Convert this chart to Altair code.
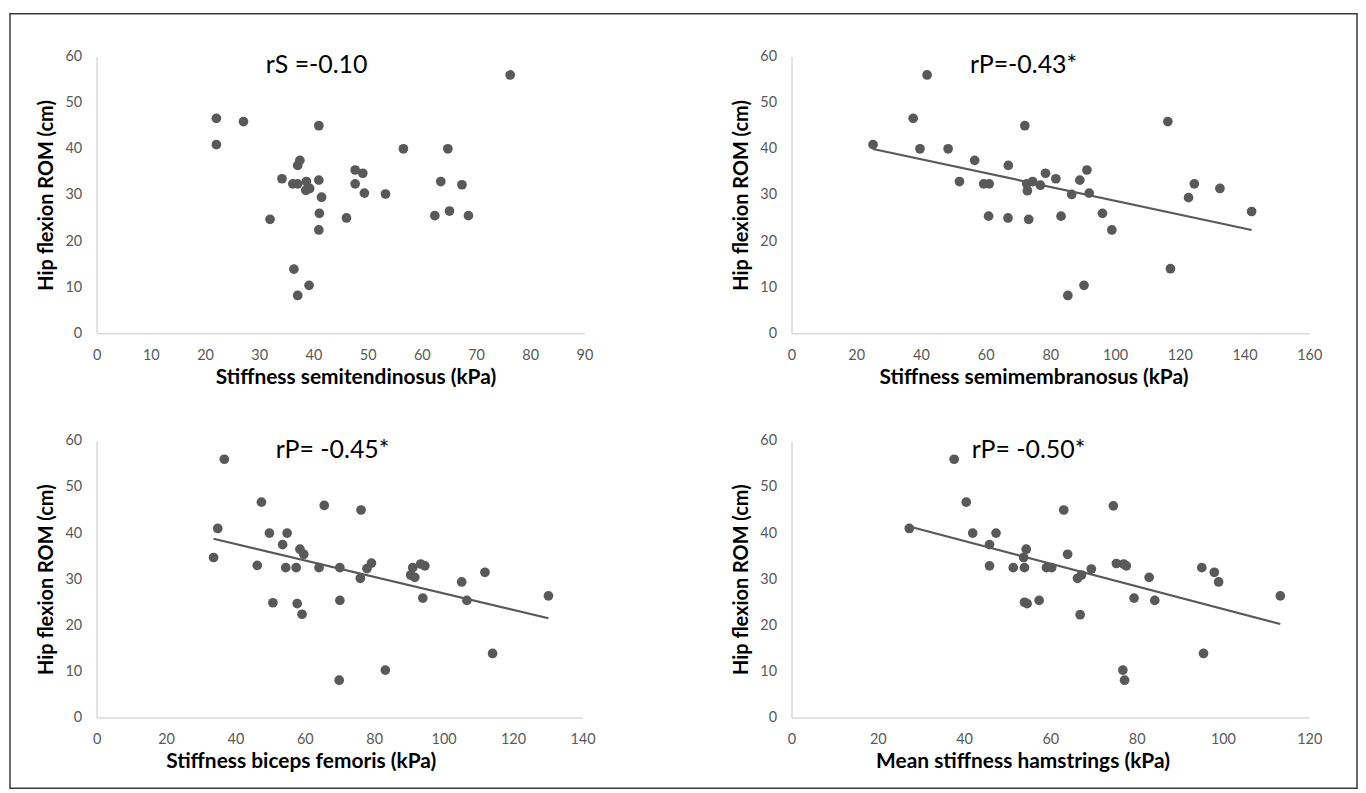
import altair as alt
import pandas as pd

FONT = "Lato"
Y_TITLE = "Hip flexion ROM (cm)"

# Panel 1: semitendinosus
st_x = [76.3, 22.1, 27.1, 41.0, 22.1, 56.6, 64.8, 37.5, 37.1, 47.7,
        49.1, 34.2, 38.7, 41.0, 36.2, 37.1, 63.5, 47.7, 67.4, 38.6,
        39.3, 49.4, 53.3, 41.5, 41.1, 65.1, 62.4, 68.6, 32.0, 46.1,
        41.0, 36.4, 39.2, 37.1]
st_y = [56.0, 46.6, 45.9, 45.0, 40.9, 40.0, 40.0, 37.5, 36.4, 35.4,
        34.7, 33.5, 32.9, 33.2, 32.4, 32.4, 32.9, 32.4, 32.2, 31.0,
        31.4, 30.4, 30.2, 29.5, 26.0, 26.5, 25.5, 25.5, 24.7, 25.0,
        22.4, 13.9, 10.4, 8.2]

# Panel 2: semimembranosus
sm_x = [41.9, 37.6, 72.1, 116.3, 25.2, 39.7, 48.4, 56.6, 67.0, 91.3,
        78.5, 51.9, 81.7, 89.1, 59.4, 61.1, 72.7, 74.5, 76.9, 72.9,
        124.5, 132.4, 86.6, 92.0, 122.7, 60.9, 66.9, 73.3, 83.3, 96.1,
        142.2, 99.0, 117.1, 90.4, 85.4]
sm_y = [56.0, 46.6, 45.0, 45.9, 40.9, 40.0, 40.0, 37.5, 36.4, 35.4,
        34.7, 32.9, 33.5, 33.2, 32.4, 32.4, 32.4, 32.9, 32.1, 30.9,
        32.4, 31.4, 30.1, 30.4, 29.4, 25.4, 25.0, 24.7, 25.4, 26.0,
        26.4, 22.4, 14.0, 10.4, 8.2]

# Panel 3: biceps femoris
bf_x = [36.8, 47.5, 65.6, 76.2, 34.9, 49.8, 54.9, 53.6, 58.6, 59.7,
        33.7, 46.3, 54.5, 57.5, 64.1, 70.1, 77.9, 79.2, 76.0, 91.1,
        93.4, 94.6, 90.5, 91.7, 105.2, 111.9, 50.8, 57.8, 59.2, 70.1,
        94.0, 106.7, 130.2, 114.1, 83.2, 69.9]
bf_y = [56.0, 46.7, 46.0, 45.0, 41.0, 40.0, 40.0, 37.5, 36.5, 35.4,
        34.7, 33.0, 32.5, 32.5, 32.5, 32.5, 32.3, 33.5, 30.2, 32.5,
        33.3, 32.9, 30.9, 30.4, 29.4, 31.5, 24.9, 24.7, 22.4, 25.4,
        25.9, 25.4, 26.4, 13.9, 10.3, 8.1]

# Panel 4: mean hamstrings
mh_x = [37.7, 40.5, 63.1, 74.6, 27.3, 42.0, 47.4, 45.9, 54.4, 53.8,
        64.0, 45.9, 51.4, 54.0, 59.1, 60.3, 69.5, 67.2, 66.3, 75.3,
        77.0, 77.6, 82.9, 95.1, 98.0, 99.0, 54.6, 57.4, 66.9, 79.4,
        84.2, 113.3, 95.5, 76.8, 77.2, 54.0]
mh_y = [56.0, 46.7, 45.0, 45.9, 41.0, 40.0, 40.0, 37.5, 36.5, 34.7,
        35.4, 32.9, 32.5, 32.5, 32.5, 32.5, 32.2, 30.9, 30.2, 33.4,
        33.3, 32.9, 30.4, 32.5, 31.5, 29.4, 24.7, 25.4, 22.3, 25.9,
        25.4, 26.4, 13.9, 10.3, 8.1, 25.0]

x_titles = ["Stiffness semitendinosus (kPa)", "Stiffness semimembranosus (kPa)",
            "Stiffness biceps femoris (kPa)", "Mean stiffness hamstrings (kPa)"]
x_max = [90, 160, 140, 120]
x_step = [10, 20, 20, 20]
y_ticks = [0, 10, 20, 30, 40, 50, 60]
annotations = ["rS =-0.10", "rP=-0.43*", "rP= -0.45*", "rP= -0.50*"]
has_trend = [False, True, True, True]

PT_COLOR = "#595959"


def panel(xs, ys, i, width, height, label_x, title_x, frame=False):
    df = pd.DataFrame({"x": xs, "y": ys})
    base = alt.Chart(df)
    xenc = alt.X("x:Q", title=x_titles[i],
                 scale=alt.Scale(domain=[0, x_max[i]], nice=False),
                 axis=alt.Axis(values=list(range(0, x_max[i] + 1, x_step[i])), titleX=title_x))
    yenc = alt.Y("y:Q", title=Y_TITLE,
                 scale=alt.Scale(domain=[0, 60], nice=False),
                 axis=alt.Axis(values=y_ticks))
    layers = [base.mark_circle(size=95, color=PT_COLOR, opacity=1).encode(x=xenc, y=yenc)]
    if has_trend[i]:
        layers.append(base.transform_regression("x", "y")
                      .mark_line(color=PT_COLOR, strokeWidth=2.2)
                      .encode(x=xenc, y=yenc))
    layers.append(alt.Chart(pd.DataFrame({"t": [annotations[i]]}))
                  .mark_text(font=FONT, fontSize=25, color="black", align="center", baseline="middle")
                  .encode(text="t:N", x=alt.value(label_x), y=alt.value(9)))
    if frame:
        layers.append(alt.Chart(pd.DataFrame({"f": [0]}))
                      .mark_rect(fillOpacity=0, stroke="#3a3a3a", strokeWidth=1.5)
                      .encode(x=alt.value(-87), x2=alt.value(1266), y=alt.value(-43), y2=alt.value(735)))
    return alt.layer(*layers).properties(width=width, height=height)


p1 = panel(st_x, st_y, 0, 490, 278, 221, 260, frame=True)
p2 = panel(sm_x, sm_y, 1, 520, 278, 233, 243)
p3 = panel(bf_x, bf_y, 2, 488, 278, 237, 205)
p4 = panel(mh_x, mh_y, 3, 520, 278, 238, 232)

chart = alt.concat(p1, p2, p3, p4, columns=2, spacing={"row": 108, "column": 208}, bounds="flush").properties(
    padding={"left": 1, "top": 3, "right": 0, "bottom": 0}
).configure_view(strokeWidth=0).configure_axis(
    domainColor="#d9d9d9", domainWidth=1.5, grid=False, ticks=False, tickSize=0,
    labelColor="#595959", labelFont=FONT, labelFontSize=14.5, labelPadding=15,
    labelFlush=False, labelOverlap=False,
    titleFont=FONT, titleFontSize=20, titleFontWeight="bold", titleColor="black"
).configure_axisX(titlePadding=5, titleFontSize=21).configure_axisY(titlePadding=8)

chart.save("out.html", embed_options={"renderer": "svg", "actions": False})
